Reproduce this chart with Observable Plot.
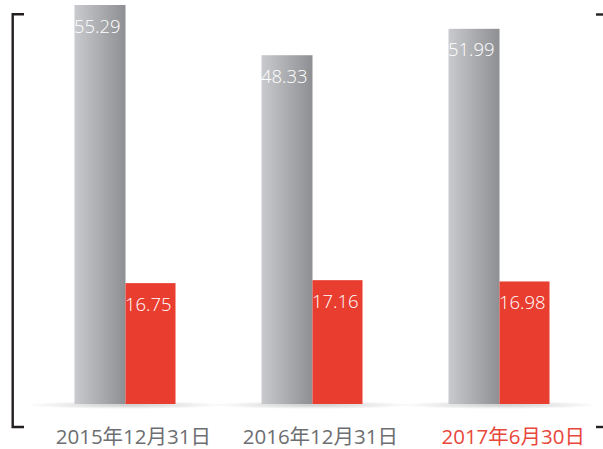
<!DOCTYPE html>
<html><head><meta charset="utf-8">
<script src="https://cdn.jsdelivr.net/npm/d3@7"></script>
<script src="https://cdn.jsdelivr.net/npm/@observablehq/plot@0.6"></script>
<style>body{margin:0;background:#fff;} svg{display:block}</style>
</head><body><div id="chart"></div>
<script>
const dates = ["2015年12月31日", "2016年12月31日", "2017年6月30日"];
const grayValues = [55.29, 48.33, 51.99];
const redValues = [16.75, 17.16, 16.98];
const labelColors = ["#6d6e71", "#6d6e71", "#e8473b"];

const grayData = dates.map((d, i) => ({date: d, value: grayValues[i]}));
const redData = dates.map((d, i) => ({date: d, value: redValues[i]}));
const labelData = dates.map((d, i) => ({date: d, color: labelColors[i]}));

const font = "'Open Sans', 'Noto Sans CJK SC', sans-serif";

const plot = Plot.plot({
  width: 603,
  height: 449,
  marginTop: 5,
  marginBottom: 45,
  marginLeft: 31.5,
  marginRight: 10.5,
  style: {fontFamily: font, background: "#fff"},
  x: {type: "band", domain: dates, padding: 0, axis: null},
  y: {domain: [0, 55.29], axis: null},
  marks: [
    Plot.barY(grayData, {x: "date", y: "value", fill: "url(#grayGrad)", insetLeft: 42.5, insetRight: 93.5}),
    Plot.barY(redData, {x: "date", y: "value", fill: "#e93d30", insetLeft: 93.5, insetRight: 43.5}),
    Plot.text(grayData, {x: "date", y: "value", text: d => d.value.toFixed(2), dx: -52, dy: 14,
      textAnchor: "start", lineAnchor: "top", fill: "white", fontSize: 18.5, fontWeight: 300}),
    Plot.text(redData, {x: "date", y: "value", text: d => d.value.toFixed(2), dx: -1, dy: 14,
      textAnchor: "start", lineAnchor: "top", fill: "white", fontSize: 18.5, fontWeight: 300}),
    Plot.text(labelData, {x: "date", text: "date", frameAnchor: "bottom", dx: 85, dy: 39.5,
      textAnchor: "end", lineAnchor: "bottom", fill: d => d.color, fontSize: 20.5})
  ]
});

const svg = d3.select(plot);
const defs = svg.insert("defs", ":first-child");
const lg = defs.append("linearGradient").attr("id", "grayGrad").attr("x1", "0").attr("x2", "1").attr("y1", "0").attr("y2", "0");
lg.append("stop").attr("offset", "0%").attr("stop-color", "#c9cacd");
lg.append("stop").attr("offset", "100%").attr("stop-color", "#8e8f93");
const rg = defs.append("radialGradient").attr("id", "shadowGrad");
rg.append("stop").attr("offset", "0%").attr("stop-color", "#000").attr("stop-opacity", 0.2);
rg.append("stop").attr("offset", "60%").attr("stop-color", "#000").attr("stop-opacity", 0.08);
rg.append("stop").attr("offset", "100%").attr("stop-color", "#000").attr("stop-opacity", 0);

const xs = plot.scale("x");
const yBase = plot.scale("y").apply(0);
const shadowG = svg.insert("g", "defs + *");
dates.forEach(d => {
  const cx = xs.apply(d) + xs.bandwidth / 2;
  shadowG.append("ellipse").attr("cx", cx).attr("cy", yBase + 1).attr("rx", 100).attr("ry", 4)
    .attr("fill", "url(#shadowGrad)");
});

const br = svg.append("g").attr("fill", "none").attr("stroke", "#231f20").attr("stroke-width", 2.4);
br.append("path").attr("d", "M24,14.3H12.7V427H24");
br.append("path").attr("d", "M596,14.5H603");
br.append("path").attr("d", "M596,427H603");

document.getElementById("chart").appendChild(plot);
</script>
</body></html>
